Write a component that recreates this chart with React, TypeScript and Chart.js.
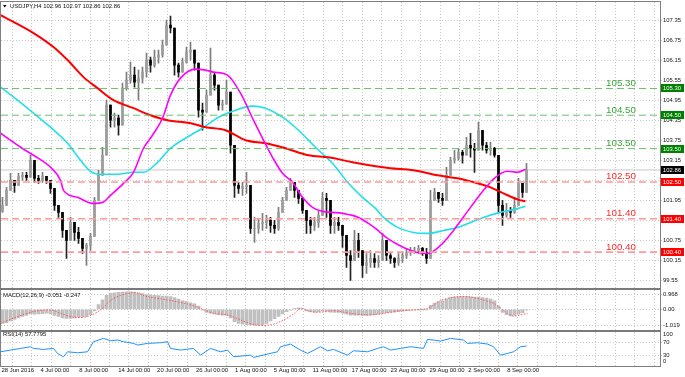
import React, { useEffect, useRef } from 'react';
import { Chart, registerables } from 'chart.js';

Chart.register(...registerables);

const FONT = '"Liberation Sans", Arial, sans-serif';

// ---------------- data ----------------
const SYMBOL_TITLE = 'USDJPY,H4 102.96 102.97 102.86 102.86';
const MACD_TITLE = 'MACD(12,26,9) -0.051 -0.247';
const RSI_TITLE = 'RSI(14) 57.7795';

const DATE_LABELS = ['28 Jun 2016', '4 Jul 00:00', '8 Jul 00:00', '14 Jul 00:00', '20 Jul 00:00', '26 Jul 00:00', '1 Aug 00:00', '5 Aug 00:00', '11 Aug 00:00', '17 Aug 00:00', '23 Aug 00:00', '29 Aug 00:00', '2 Sep 00:00', '8 Sep 00:00'];
const PRICE_TICKS = [107.35, 106.75, 106.15, 105.55, 104.95, 104.35, 103.75, 103.15, 102.55, 101.95, 101.35, 100.75, 100.15, 99.55];
const MACD_TICKS = [0.968, 0, -1.019];
const RSI_LEVELS = [70, 30];
const RSI_EDGE_LABELS = ['100', '0'];

const LEVELS_GREEN = [105.30, 104.50, 103.50];
const LEVELS_RED = [102.50, 101.40, 100.40];
const CURRENT_PRICE = 102.86;

const FIRST_OPEN = 101.62;
const HIGHS = [102.04, 102.34, 102.76, 102.55, 102.76, 102.79, 102.79, 103.30, 102.94, 102.70, 102.79, 102.64, 102.55, 102.16, 101.74, 101.44, 101.05, 101.44, 101.26, 101.14, 100.75, 100.66, 100.96, 102.04, 102.85, 103.54, 104.95, 104.65, 104.56, 104.50, 105.46, 105.79, 106.09, 105.94, 105.85, 105.94, 106.36, 106.24, 106.45, 106.45, 106.75, 107.35, 107.47, 106.45, 106.06, 106.21, 106.54, 106.69, 106.24, 105.94, 104.86, 105.25, 106.51, 105.76, 105.16, 104.95, 105.55, 104.26, 102.94, 102.49, 102.49, 102.79, 102.16, 101.44, 101.41, 101.56, 101.50, 101.44, 101.35, 101.74, 102.04, 102.34, 102.61, 102.40, 102.25, 102.04, 101.56, 101.44, 101.44, 101.65, 102.19, 102.16, 101.56, 101.44, 101.44, 101.14, 100.66, 100.45, 101.05, 100.96, 100.36, 100.36, 100.45, 100.36, 100.30, 100.96, 100.75, 100.36, 100.24, 100.36, 100.39, 100.51, 100.54, 100.54, 100.60, 100.54, 100.51, 102.25, 102.31, 102.19, 102.16, 102.94, 103.24, 103.45, 103.51, 103.45, 103.84, 103.96, 103.66, 104.29, 103.96, 103.69, 103.69, 103.54, 102.55, 101.95, 101.86, 101.74, 102.04, 102.61, 102.34, 103.06];
const LOWS = [101.59, 102.04, 102.34, 102.19, 102.49, 102.55, 102.55, 102.85, 102.49, 102.46, 102.49, 102.46, 102.16, 101.65, 101.44, 100.84, 100.21, 100.96, 100.75, 100.66, 100.36, 100.00, 100.45, 101.14, 102.34, 102.85, 103.75, 104.14, 104.14, 103.90, 104.86, 105.25, 105.46, 105.34, 104.95, 105.46, 105.64, 105.79, 105.94, 106.06, 106.24, 106.84, 106.96, 105.70, 105.64, 105.79, 106.06, 106.15, 105.85, 104.44, 104.05, 104.74, 105.46, 105.25, 104.65, 104.65, 104.95, 103.36, 102.04, 102.16, 102.10, 102.16, 100.96, 100.69, 100.96, 101.05, 101.11, 100.99, 100.96, 101.05, 101.65, 101.95, 102.25, 102.04, 101.86, 101.56, 100.96, 100.96, 101.05, 101.14, 101.74, 101.44, 100.96, 100.96, 101.05, 100.54, 99.94, 99.55, 100.45, 100.24, 99.64, 99.76, 99.94, 99.94, 99.94, 100.36, 100.15, 100.06, 99.94, 100.00, 100.09, 100.21, 100.30, 100.36, 100.36, 100.30, 100.06, 100.96, 101.95, 101.89, 101.80, 102.34, 102.85, 103.06, 103.15, 103.06, 103.36, 103.24, 102.79, 103.75, 103.45, 103.36, 103.30, 103.24, 101.56, 101.20, 101.44, 101.44, 101.56, 102.25, 102.04, 102.76];
const CLOSES = [101.80, 102.25, 102.55, 102.40, 102.67, 102.70, 102.64, 103.15, 102.61, 102.55, 102.67, 102.55, 102.31, 101.80, 101.59, 101.05, 100.75, 101.29, 100.99, 100.81, 100.51, 100.60, 100.87, 101.95, 102.70, 103.30, 104.80, 104.35, 104.41, 104.20, 105.31, 105.55, 105.70, 105.49, 105.61, 105.79, 106.15, 106.00, 106.24, 106.30, 106.60, 107.20, 107.11, 106.00, 105.79, 106.09, 106.39, 106.45, 106.06, 104.65, 104.59, 105.10, 105.70, 105.40, 104.80, 104.83, 105.19, 103.60, 102.40, 102.31, 102.37, 102.40, 101.11, 101.11, 101.26, 101.29, 101.35, 101.20, 101.11, 101.59, 101.95, 102.25, 102.49, 102.25, 102.01, 101.65, 101.35, 101.20, 101.29, 101.50, 102.01, 101.95, 101.20, 101.29, 101.20, 100.90, 100.30, 100.15, 100.75, 100.45, 100.00, 100.09, 100.21, 100.09, 100.15, 100.75, 100.30, 100.21, 100.09, 100.21, 100.30, 100.39, 100.45, 100.45, 100.51, 100.39, 100.21, 101.95, 102.19, 102.01, 101.95, 102.70, 103.15, 103.21, 103.39, 103.30, 103.60, 103.51, 103.45, 104.05, 103.60, 103.45, 103.51, 103.30, 101.80, 101.50, 101.65, 101.59, 101.80, 102.46, 102.19, 102.86];

const MA_RED: [number, number][] = [[-0.5, 107.50], [7.75, 106.96], [12.75, 106.54], [16.25, 106.15], [20.25, 105.64], [23.75, 105.31], [27.75, 104.95], [32.75, 104.71], [37, 104.50], [41.25, 104.35], [47, 104.26], [50.75, 104.14], [55.75, 104.05], [60.75, 103.75], [65.75, 103.66], [70.75, 103.51], [76.5, 103.30], [81.5, 103.24], [87.5, 103.09], [93.25, 102.97], [97, 102.91], [102.75, 102.85], [108.75, 102.70], [113.75, 102.61], [118.75, 102.46], [122, 102.34], [125.25, 102.16], [128.75, 101.98], [130.75, 101.92]];
const MA_MAGENTA: [number, number][] = [[-0.5, 103.96], [4.5, 103.54], [7.75, 103.30], [12, 102.94], [14.5, 102.55], [15.25, 102.25], [18.75, 102.04], [22.5, 101.86], [25, 101.89], [27, 102.10], [30.25, 102.46], [32.75, 102.79], [35.25, 103.51], [37.5, 103.90], [40, 104.41], [42, 105.10], [44.5, 105.61], [48.25, 105.88], [50.75, 105.85], [52.75, 105.79], [56.25, 105.70], [59.5, 105.16], [62.75, 104.35], [65.25, 103.75], [67.5, 103.24], [70, 102.76], [72.5, 102.49], [75, 102.04], [77.5, 101.74], [80, 101.62], [82.5, 101.59], [85, 101.56], [89, 101.44], [91.5, 101.26], [93.25, 101.11], [96.25, 100.81], [100.25, 100.54], [103.75, 100.39], [106.25, 100.36], [109.5, 100.60], [112.75, 101.05], [117, 101.74], [120.25, 102.25], [123.25, 102.64], [126.25, 102.82], [128.75, 102.79], [130.75, 102.88]];
const MA_CYAN: [number, number][] = [[-0.5, 105.34], [3.75, 104.95], [7.75, 104.56], [12, 104.14], [16.25, 103.66], [19.5, 103.15], [22, 102.82], [24.5, 102.73], [28.75, 102.73], [32.75, 102.79], [35.25, 102.79], [38.75, 103.09], [42, 103.51], [47, 103.90], [50, 104.11], [54, 104.44], [58.25, 104.65], [62.5, 104.77], [65.75, 104.71], [70, 104.44], [74, 104.05], [78.25, 103.54], [82.5, 103.06], [86.5, 102.46], [90, 102.04], [93.25, 101.71], [95.25, 101.44], [98.75, 101.14], [102.75, 100.99], [106.5, 100.96], [110.25, 101.05], [113.75, 101.14], [117, 101.29], [120.25, 101.44], [124.5, 101.59], [127, 101.65], [129, 101.71], [130.75, 101.77]];

const MACD_MAIN = [-0.90, -0.85, -0.75, -0.65, -0.55, -0.45, -0.40, -0.30, -0.32, -0.30,
  -0.28, -0.25, -0.30, -0.40, -0.45, -0.55, -0.58, -0.58, -0.55, -0.52,
  -0.48, -0.45, -0.35, -0.10, 0.30, 0.60, 0.90, 1.02, 1.05, 1.08,
  1.10, 1.12, 1.12, 1.10, 1.05, 1.00, 0.95, 0.92, 0.90, 0.88,
  0.85, 0.85, 0.82, 0.75, 0.65, 0.55, 0.50, 0.42, 0.35, 0.20,
  -0.05, -0.20, -0.25, -0.30, -0.35, -0.38, -0.40, -0.55, -0.80, -0.90,
  -0.95, -0.98, -1.00, -1.02, -1.02, -1.00, -0.90, -0.75, -0.60, -0.45,
  -0.30, -0.15, -0.05, 0.05, 0.10, 0.02, -0.10, -0.15, -0.18, -0.15,
  -0.10, -0.12, -0.18, -0.20, -0.20, -0.25, -0.32, -0.38, -0.38, -0.38,
  -0.40, -0.40, -0.38, -0.36, -0.32, -0.25, -0.22, -0.20, -0.18, -0.15,
  -0.12, -0.08, -0.05, -0.03, -0.02, -0.01, -0.02, 0.25, 0.40, 0.50,
  0.55, 0.65, 0.75, 0.80, 0.82, 0.82, 0.82, 0.80, 0.78, 0.78,
  0.75, 0.72, 0.65, 0.55, 0.20, -0.20, -0.35, -0.42, -0.40, -0.30,
  -0.22, -0.05];
const MACD_SIGNAL: [number, number][] = [[-0.5, -0.90], [3.75, -0.47], [7.75, -0.15], [12, -0.04], [14.5, -0.26], [17.75, -0.51], [21.25, -0.47], [24.5, -0.04], [27.75, 0.70], [32.75, 1.07], [36.25, 0.81], [41.25, 0.60], [46.25, 0.34], [49.5, 0.06], [52.75, -0.26], [56.25, -0.36], [59.5, -0.68], [62.75, -0.98], [66.25, -1.02], [69.5, -0.79], [72.75, -0.30], [74.5, 0.05], [77, -0.15], [79.5, -0.19], [82.75, -0.09], [87, -0.26], [91.25, -0.36], [95.25, -0.26], [99.5, -0.09], [106.25, 0.06], [109.5, 0.56], [112.75, 0.77], [116.25, 0.81], [119.5, 0.64], [122.75, 0.38], [126.25, -0.26], [127.75, -0.43], [129.5, -0.36], [131.25, -0.26]];

const RSI_POINTS: [number, number][] = [[-0.5, 41], [2, 46], [4.5, 51], [7, 56], [7.75, 51], [10.25, 48], [12.75, 51], [13.75, 36], [15.25, 26], [16.25, 41], [18.75, 38], [21.25, 41], [22, 56], [22.75, 71], [25.25, 81], [27, 74], [28.75, 76], [30.25, 71], [32.75, 66], [33.75, 61], [36.25, 66], [39.5, 68], [41.25, 71], [42, 51], [44.5, 46], [47.75, 51], [49.5, 31], [52, 51], [54.5, 41], [56.25, 46], [57.75, 26], [62, 31], [62.75, 24], [66.25, 34], [68.75, 41], [69.5, 56], [72, 64], [74.5, 46], [76.25, 36], [79.5, 56], [81.25, 44], [82.75, 48], [86.25, 31], [87.75, 44], [91.25, 41], [93.75, 51], [95.25, 56], [97, 46], [99.5, 51], [102, 56], [105.25, 51], [106.25, 78], [107.75, 76], [109.5, 73], [112, 81], [115.25, 76], [116.25, 66], [118.75, 68], [121.25, 64], [122.75, 56], [124.5, 31], [126.25, 36], [127.75, 41], [129.5, 56], [131, 58]];

// x axis: one slot per candle; 2 trading days per grid step
const X_MIN = -0.375;
const X_MAX = 164.375;
const GRID_STEP = 4.8625;
const GRID_COUNT = 34;

const overlay = {
  id: 'overlay',
  afterDatasetsDraw(chart: any) {
    const { ctx, chartArea } = chart;
    const ys = chart.scales.y;
    ctx.save();
    ctx.font = `9.8px ${FONT}`;
    ctx.textAlign = 'left';
    ctx.textBaseline = 'alphabetic';
    LEVELS_GREEN.forEach((v) => {
      ctx.fillStyle = '#3aa53a';
      ctx.fillText(v.toFixed(2), chartArea.right - 54, ys.getPixelForValue(v) - 2.5);
    });
    LEVELS_RED.forEach((v) => {
      ctx.fillStyle = '#ff2a2a';
      ctx.fillText(v.toFixed(2), chartArea.right - 54, ys.getPixelForValue(v) - 2.5);
    });
    ctx.restore();
  },
  afterDraw(chart: any) {
    const { ctx, chartArea, width } = chart;
    const ys = chart.scales.y;
    const ym = chart.scales.yMacd;
    const yr = chart.scales.yRsi;
    ctx.save();
    // frame & separators
    ctx.strokeStyle = '#808080';
    ctx.lineWidth = 1;
    ctx.strokeRect(0.5, chartArea.top - 0.5, chartArea.right, chartArea.bottom - chartArea.top + 1);
    ctx.fillStyle = '#7a7a7a';
    [ym.top, yr.top].forEach((t: number) => {
      ctx.fillRect(0, Math.round(t) - 1, chartArea.right + 1, 2);
    });
    // price tags
    const tag = (v: number, bg: string) => {
      const y = ys.getPixelForValue(v);
      ctx.fillStyle = bg;
      ctx.fillRect(chartArea.right + 1, Math.round(y) - 4, width - chartArea.right - 2, 8);
      ctx.fillStyle = '#fff';
      ctx.font = `5.9px ${FONT}`;
      ctx.textAlign = 'left';
      ctx.textBaseline = 'middle';
      ctx.fillText(v.toFixed(2), chartArea.right + 3, Math.round(y));
    };
    LEVELS_GREEN.forEach((v) => tag(v, '#008000'));
    LEVELS_RED.forEach((v) => tag(v, '#ff0000'));
    tag(CURRENT_PRICE, '#000000');
    // RSI edge labels
    ctx.fillStyle = '#111';
    ctx.font = `5.9px ${FONT}`;
    ctx.textBaseline = 'middle';
    ctx.fillText(RSI_EDGE_LABELS[0], chartArea.right + 3, yr.getPixelForValue(100) + 2);
    ctx.fillText(RSI_EDGE_LABELS[1], chartArea.right + 3, yr.getPixelForValue(0) - 4);
    // titles
    ctx.fillStyle = '#000';
    ctx.beginPath();
    ctx.moveTo(3, 5);
    ctx.lineTo(6.5, 5);
    ctx.lineTo(4.75, 7.5);
    ctx.closePath();
    ctx.fill();
    ctx.fillStyle = '#111';
    ctx.fillText(SYMBOL_TITLE, 10, 6.5);
    ctx.fillText(MACD_TITLE, 3, ym.top + 6.5);
    ctx.fillText(RSI_TITLE, 3, yr.top + 4);
    ctx.restore();
  },
};

export default function App() {
  const ref = useRef<HTMLCanvasElement>(null);
  useEffect(() => {
    const canvas = ref.current;
    if (!canvas) return;
    Chart.defaults.font.family = FONT;
    const opens = CLOSES.map((c, i) => (i === 0 ? FIRST_OPEN : CLOSES[i - 1]));
    const isUp = CLOSES.map((c, i) => c >= opens[i]);
    const wickData = CLOSES.map((c, i) => ({ x: i, y: [Math.min(LOWS[i], opens[i], c), Math.max(HIGHS[i], opens[i], c)] }));
    const bodyData = CLOSES.map((c, i) => ({ x: i, y: [opens[i], c] }));
    const span = (v: number) => [{ x: X_MIN, y: v }, { x: X_MAX, y: v }];
    const pts = (arr: [number, number][]) => arr.map(([x, y]) => ({ x, y }));
    const lineBase = { pointRadius: 0, fill: false, borderJoinStyle: 'round' as const };

    const datasets: any[] = [
      { type: 'line', data: span(CURRENT_PRICE), borderColor: '#c8c8c8', borderWidth: 1, yAxisID: 'y', ...lineBase },
      { type: 'bar', data: MACD_MAIN.map((v, i) => ({ x: i, y: v })), backgroundColor: '#c0c0c0', barThickness: 3, grouped: false, yAxisID: 'yMacd' },
      { type: 'line', data: pts(MACD_SIGNAL), borderColor: '#ff5a5a', borderWidth: 1, borderDash: [1.5, 1.5], yAxisID: 'yMacd', tension: 0.3, ...lineBase },
      { type: 'line', data: pts(RSI_POINTS), borderColor: '#1e90ff', borderWidth: 1, yAxisID: 'yRsi', ...lineBase },
      { type: 'bar', data: wickData, backgroundColor: isUp.map((u) => (u ? '#7c7c7c' : '#222222')), barThickness: 1, grouped: false, yAxisID: 'y' },
      { type: 'bar', data: bodyData, backgroundColor: isUp.map((u) => (u ? '#9c9c9c' : '#000000')), barThickness: 2, grouped: false, yAxisID: 'y' },
      { type: 'line', data: pts(MA_CYAN), borderColor: '#22e0e8', borderWidth: 1.6, yAxisID: 'y', cubicInterpolationMode: 'monotone', ...lineBase },
      { type: 'line', data: pts(MA_RED), borderColor: '#ff0000', borderWidth: 2, yAxisID: 'y', cubicInterpolationMode: 'monotone', ...lineBase },
      { type: 'line', data: pts(MA_MAGENTA), borderColor: '#ff00ff', borderWidth: 1.6, yAxisID: 'y', cubicInterpolationMode: 'monotone', ...lineBase },
      ...LEVELS_GREEN.map((v) => ({ type: 'line', data: span(v), borderColor: '#6cc06c', borderWidth: 1, borderDash: [7, 4], yAxisID: 'y', ...lineBase })),
      ...LEVELS_RED.map((v) => ({ type: 'line', data: span(v), borderColor: '#ff9a9a', borderWidth: 1.6, borderDash: [7, 4], yAxisID: 'y', ...lineBase })),
    ];
    datasets.forEach((d, i) => { d.order = datasets.length - i; });

    const zeroPad = (s: any) => { s.paddingTop = 0; s.paddingBottom = 0; s.paddingLeft = 0; s.paddingRight = 0; };
    const tickFont = { size: 5.9, family: FONT };
    const gridCommon = { color: '#c8c8c8', lineWidth: 1, tickLength: 2 };

    const chart = new Chart(canvas, {
      type: 'line',
      data: { datasets },
      plugins: [overlay],
      options: {
        animation: false,
        responsive: false,
        events: [],
        layout: { padding: { left: 1, top: 2, right: 0, bottom: 0 } },
        plugins: { legend: { display: false }, tooltip: { enabled: false } },
        scales: {
          x: {
            type: 'linear', position: 'bottom', min: X_MIN, max: X_MAX, offset: false, bounds: 'data',
            afterBuildTicks: (s: any) => { s.ticks = Array.from({ length: GRID_COUNT }, (_, k) => ({ value: k * GRID_STEP })); },
            afterFit: (s: any) => { s.height = 11; zeroPad(s); },
            ticks: {
              autoSkip: false, maxRotation: 0, minRotation: 0, align: 'start', labelOffset: -1, padding: 1,
              font: tickFont, color: '#111',
              callback: (_v: any, i: number) => (i % 2 === 0 && i / 2 < DATE_LABELS.length ? DATE_LABELS[i / 2] : ''),
            },
            grid: { ...gridCommon, drawTicks: false },
            border: { display: false, dash: [1, 2] },
          },
          y: {
            type: 'linear', position: 'right', stack: 'panes', stackWeight: 286.5, min: 99.311, max: 107.889, bounds: 'data',
            afterBuildTicks: (s: any) => { s.ticks = PRICE_TICKS.map((v) => ({ value: v })); },
            afterFit: (s: any) => { s.width = 25; zeroPad(s); },
            ticks: { font: tickFont, color: '#111', padding: 1, callback: (v: any) => Number(v).toFixed(2) },
            grid: gridCommon,
            border: { display: false, dash: [1, 2] },
          },
          yMacd: {
            type: 'linear', position: 'right', stack: 'panes', stackWeight: 42, min: -1.359, max: 1.333, bounds: 'data',
            afterBuildTicks: (s: any) => { s.ticks = MACD_TICKS.map((v) => ({ value: v })); },
            afterFit: (s: any) => { s.width = 25; zeroPad(s); },
            ticks: { font: tickFont, color: '#111', padding: 1, callback: (v: any) => (Number(v) === 0 ? '0.00' : String(v)) },
            grid: gridCommon,
            border: { display: false, dash: [1, 2] },
          },
          yRsi: {
            type: 'linear', position: 'right', stack: 'panes', stackWeight: 35.5, min: -1.5, max: 104.5, bounds: 'data',
            afterBuildTicks: (s: any) => { s.ticks = RSI_LEVELS.map((v) => ({ value: v })); },
            afterFit: (s: any) => { s.width = 25; zeroPad(s); },
            ticks: { font: tickFont, color: '#111', padding: 1, callback: (v: any) => String(v) },
            grid: gridCommon,
            border: { display: false, dash: [1, 2] },
          },
        },
      } as any,
    });
    return () => chart.destroy();
  }, []);
  return (
    <div style={{ position: 'fixed', left: 0, top: 0, width: 685, height: 377, background: '#fff' }}>
      <canvas ref={ref} width={685} height={377} style={{ display: 'block', width: 685, height: 377 }} />
    </div>
  );
}
